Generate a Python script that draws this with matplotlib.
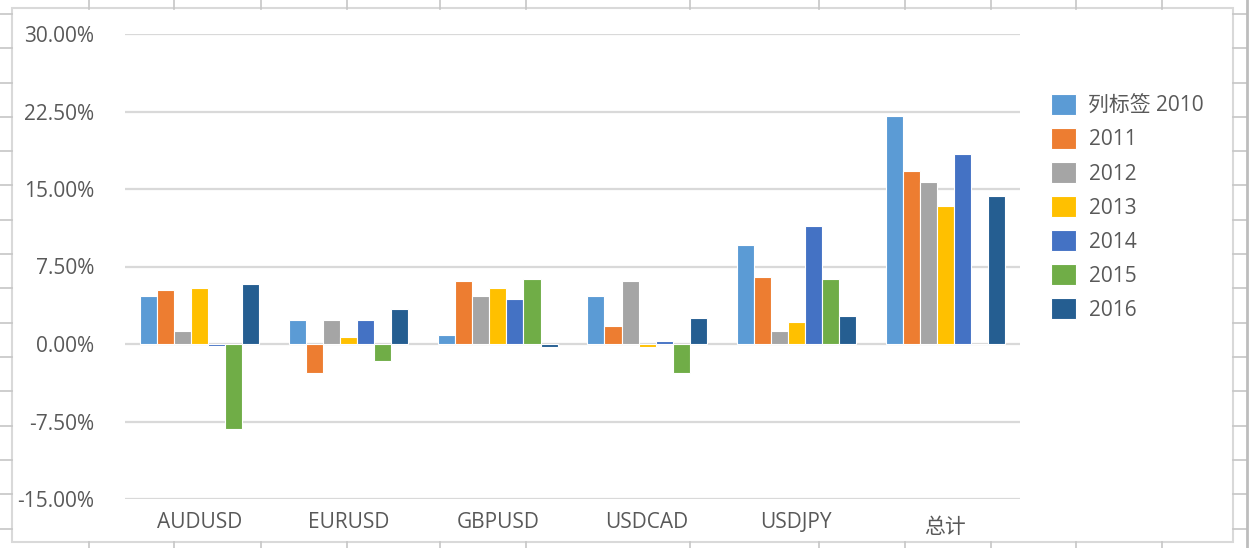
import matplotlib
matplotlib.use("Agg")
import matplotlib.pyplot as plt
import numpy as np
from matplotlib.lines import Line2D
from matplotlib.patches import Rectangle

plt.rcParams['font.family'] = ['Open Sans', 'Noto Sans CJK SC', 'DejaVu Sans']

categories = ["AUDUSD", "EURUSD", "GBPUSD", "USDCAD", "USDJPY", "总计"]
series_names = ["列标签 2010", "2011", "2012", "2013", "2014", "2015", "2016"]
v2010 = [4.60, 2.35, 0.90, 4.60, 9.60, 22.05]
v2011 = [5.25, -2.85, 6.10, 1.70, 6.50, 16.70]
v2012 = [1.30, 2.35, 4.60, 6.10, 1.30, 15.65]
v2013 = [5.45, 0.68, 5.45, -0.33, 2.15, 13.40]
v2014 = [-0.15, 2.35, 4.40, 0.30, 11.45, 18.35]
v2015 = [-8.20, -1.60, 6.30, -2.85, 6.30, 0.00]
v2016 = [5.85, 3.40, -0.33, 2.55, 2.75, 14.30]
series = [v2010, v2011, v2012, v2013, v2014, v2015, v2016]
colors = ["#5B9BD5", "#ED7D31", "#A5A5A5", "#FFC000", "#4472C4", "#70AD47", "#255E91"]
yticks = [-15, -7.5, 0, 7.5, 15, 22.5, 30]

W, H = 1257, 548
fig = plt.figure(figsize=(W / 100, H / 100), dpi=100)

# spreadsheet cell grid behind the chart
grid_col = "#C6C6C6"
vx = [89, 174, 261, 347, 440, 526, 690, 819, 905, 991, 1076, 1162]
for xv in vx:
    fig.add_artist(Line2D([xv / W, xv / W], [1, 1 - 9 / H], color=grid_col, lw=1.2))
    fig.add_artist(Line2D([xv / W, xv / W], [0, 6 / H], color=grid_col, lw=1.2))
for yv in np.arange(14, 548, 34.3):
    fig.add_artist(Line2D([0, 12 / W], [1 - yv / H, 1 - yv / H], color=grid_col, lw=1.2))
    fig.add_artist(Line2D([1233 / W, 1247 / W], [1 - yv / H, 1 - yv / H], color=grid_col, lw=1.2))
fig.add_artist(Line2D([1247 / W, 1247 / W], [0, 1], color="#BDBDBD", lw=2))
# chart area border
fig.add_artist(Rectangle((12 / W, 6 / H), (1233 - 12) / W, (540 - 6) / H,
                         fill=False, edgecolor="#D9D9D9", lw=1.5))

ax = fig.add_axes([125 / W, 49 / H, (1020 - 125) / W, (499 - 34) / H])
x = np.arange(len(categories))
n = len(series)
bw = 0.8 / n
for i, (vals, c, name) in enumerate(zip(series, colors, series_names)):
    ax.bar(x - 0.4 + bw * (i + 0.5), vals, width=bw, color=c, edgecolor="white",
           linewidth=0.8, label=name, zorder=3)

ax.set_xlim(-0.5, len(categories) - 0.5)
ax.set_ylim(-15, 30)
ax.set_yticks(yticks)
ax.set_yticklabels([f"{t:.2f}%" for t in yticks])
ax.set_xticks(x)
ax.set_xticklabels(categories)
ax.get_xticklabels()[-1].set_y(-0.012)
ax.grid(axis="y", color="#D9D9D9", lw=1.6, zorder=0)
ax.set_axisbelow(True)
for s in ax.spines.values():
    s.set_visible(False)
ax.tick_params(axis="y", length=0, pad=22, labelsize=15, labelcolor="#595959")
ax.tick_params(axis="x", length=0, pad=9, labelsize=15, labelcolor="#595959")

leg = ax.legend(loc="upper left", bbox_to_anchor=(1051 / W, 1 - 94 / H),
                bbox_transform=fig.transFigure, frameon=False, fontsize=15,
                handlelength=1.2, handleheight=1.15, handletextpad=0.6,
                labelspacing=0.56, borderaxespad=0, borderpad=0)
for t in leg.get_texts():
    t.set_color("#595959")

fig.savefig("out.png", dpi=100, facecolor="white")
